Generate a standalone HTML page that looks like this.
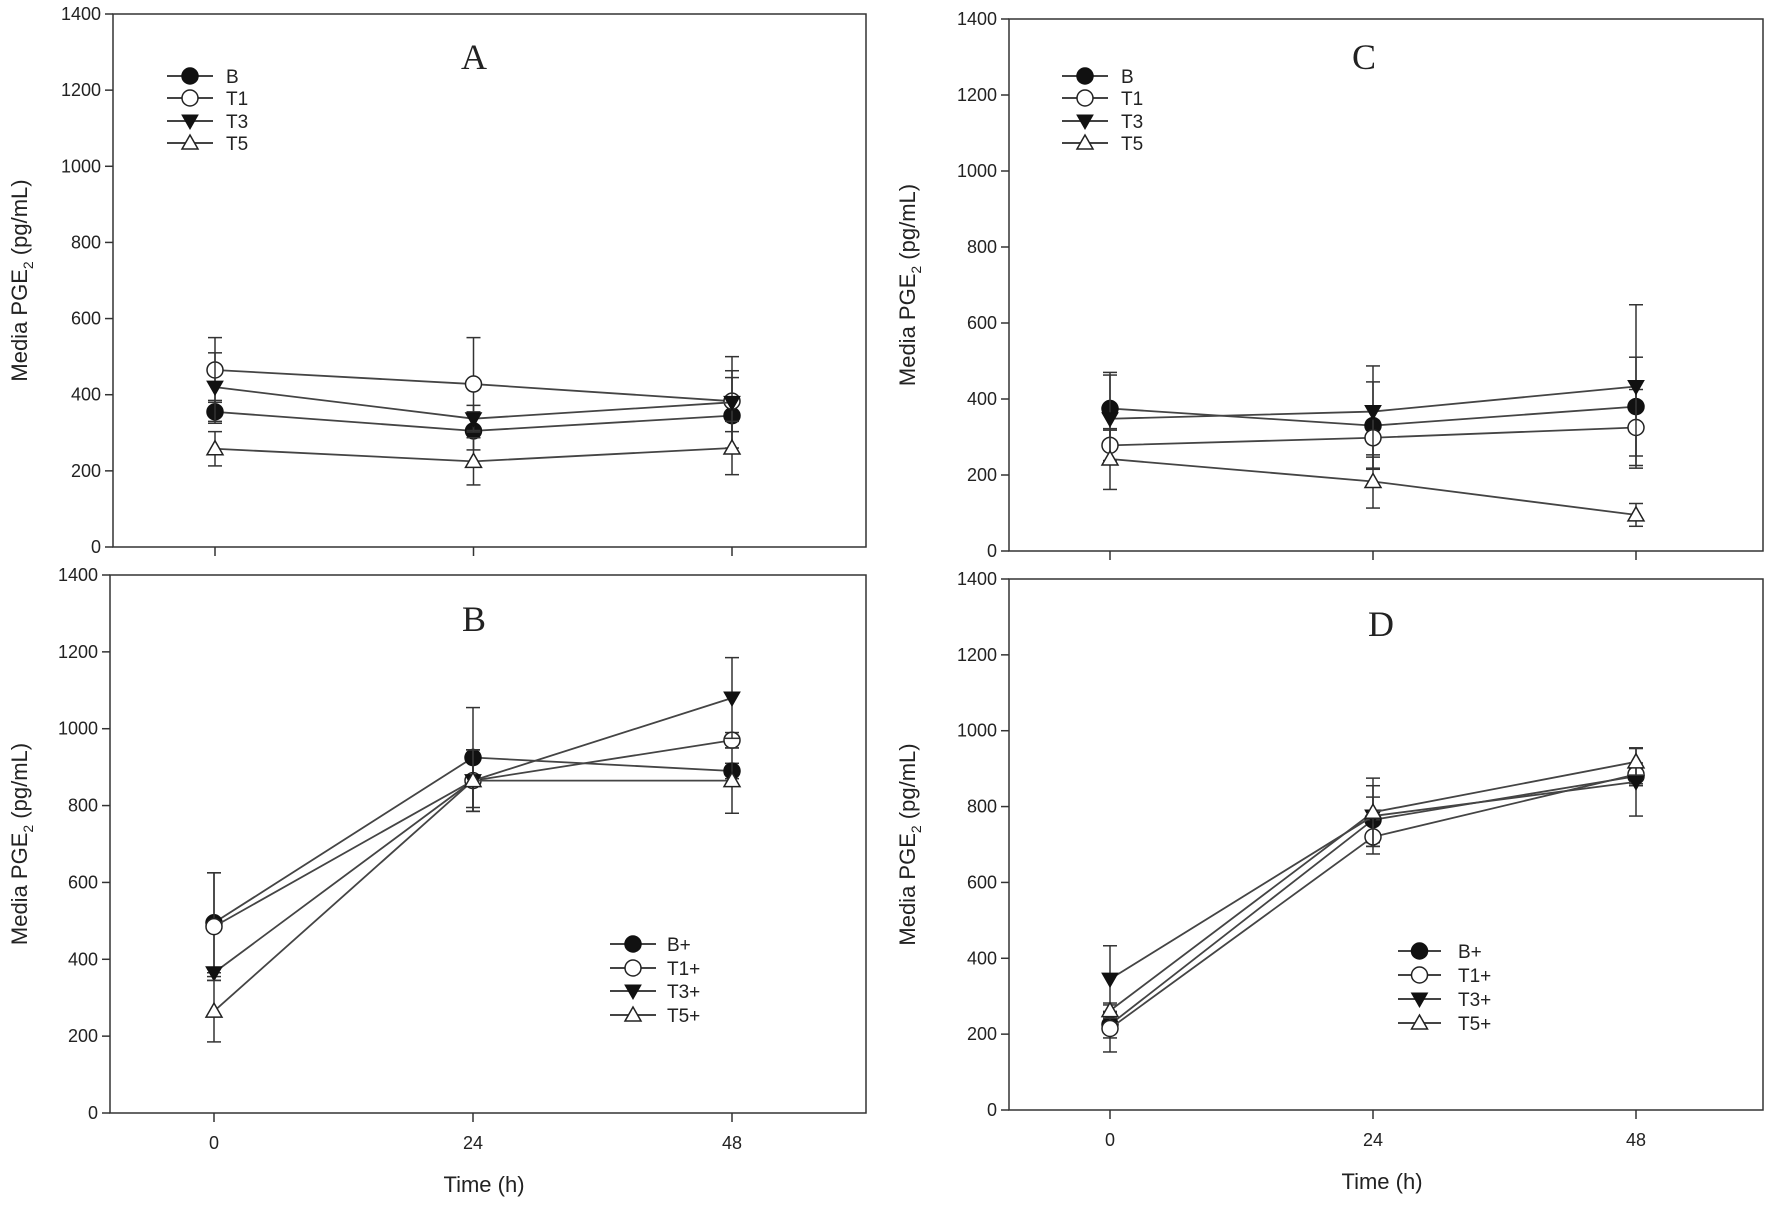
<!DOCTYPE html>
<html><head><meta charset="utf-8"><style>
html,body{margin:0;padding:0;background:#fff;}
svg{display:block;}
text{font-family:"Liberation Sans Narrow","Liberation Sans",sans-serif;fill:#222;}
</style></head><body>
<svg id="fig" width="1772" height="1207" viewBox="0 0 1772 1207" xmlns="http://www.w3.org/2000/svg"></svg>
<script>
const timeCats = [0, 24, 48];
const yTicks = [0, 200, 400, 600, 800, 1000, 1200, 1400];
const seriesNamesTop = ["B", "T1", "T3", "T5"];
const seriesNamesBot = ["B+", "T1+", "T3+", "T5+"];
const markerKinds = ["filled-circle", "open-circle", "filled-tri-down", "open-tri-up"];
// Panel A
const aB = [355, 305, 345], aBerr = [30, 50, 100];
const aT1 = [465, 428, 383], aT1err = [85, 122, 80];
const aT3 = [420, 337, 380], aT3err = [90, 35, 120];
const aT5 = [258, 225, 260], aT5err = [45, 62, 70];
// Panel B
const bB = [495, 925, 890], bBerr = [130, 130, 20];
const bT1 = [485, 865, 970], bT1err = [140, 80, 20];
const bT3 = [365, 865, 1080], bT3err = [10, 80, 105];
const bT5 = [265, 865, 865], bT5err = [80, 80, 85];
// Panel C
const cB = [375, 330, 380], cBerr = [95, 115, 130];
const cT1 = [278, 298, 325], cT1err = [40, 80, 100];
const cT3 = [348, 367, 433], cT3err = [115, 120, 215];
const cT5 = [242, 183, 95], cT5err = [80, 70, 30];
// Panel D
const dB = [225, 765, 880], dBerr = [35, 60, 20];
const dT1 = [215, 720, 885], dT1err = [62, 45, 30];
const dT3 = [345, 775, 865], dT3err = [88, 80, 90];
const dT5 = [262, 785, 918], dT5err = [20, 90, 35];

const NS = "http://www.w3.org/2000/svg";
const svg = document.getElementById("fig");
function mk(tag, attrs, parent){const e=document.createElementNS(NS,tag);for(const k in attrs)e.setAttribute(k,attrs[k]);(parent||svg).appendChild(e);return e;}

const panels = [
 {id:"a", letter:"A", L:113, R:866, T:14, B:547, tx:[215,474,732], series:[[aB,aBerr],[aT1,aT1err],[aT3,aT3err],[aT5,aT5err]], names:seriesNamesTop, leg:{x1:167,x2:213,tx:226,ys:[76,98,121,143]}, lx:474, ly:57, xlabels:false, titleX:19},
 {id:"b", letter:"B", L:110, R:866, T:575, B:1113, tx:[214,474,732], series:[[bB,bBerr],[bT1,bT1err],[bT3,bT3err],[bT5,bT5err]], names:seriesNamesBot, leg:{x1:610,x2:656,tx:667,ys:[944,968,991,1015]}, lx:474, ly:619, xlabels:true, titleX:19},
 {id:"c", letter:"C", L:1009, R:1763, T:19, B:551, tx:[1110,1373,1636], series:[[cB,cBerr],[cT1,cT1err],[cT3,cT3err],[cT5,cT5err]], names:seriesNamesTop, leg:{x1:1062,x2:1108,tx:1121,ys:[76,98,121,143]}, lx:1364, ly:57, xlabels:false, titleX:907},
 {id:"d", letter:"D", L:1009, R:1763, T:579, B:1110, tx:[1110,1373,1636], series:[[dB,dBerr],[dT1,dT1err],[dT3,dT3err],[dT5,dT5err]], names:seriesNamesBot, leg:{x1:1398,x2:1441,tx:1458,ys:[951,975,999,1023]}, lx:1381, ly:624, xlabels:true, titleX:907}
];

function marker(g, kind, x, y){
  const r=8;
  if(kind==="filled-circle") return mk("circle",{cx:x,cy:y,r:r,fill:"#111",stroke:"#111","stroke-width":1.5},g);
  if(kind==="open-circle") return mk("circle",{cx:x,cy:y,r:r,fill:"#fff",stroke:"#222","stroke-width":1.5},g);
  if(kind==="filled-tri-down") return mk("polygon",{points:`${x-8},${y-6} ${x+8},${y-6} ${x},${y+8}`,fill:"#111",stroke:"#111","stroke-width":1},g);
  return mk("polygon",{points:`${x-8},${y+6} ${x+8},${y+6} ${x},${y-8}`,fill:"#fff",stroke:"#222","stroke-width":1.5},g);
}

panels.forEach(p=>{
  const g = mk("g",{});
  
  
  const ys = v => p.B - (v/1400)*(p.B-p.T);
  const xs = i => p.tx[0] + (p.tx[2]-p.tx[0]) * (timeCats[i]/48);
  const frame = mk("rect",{x:p.L,y:p.T,width:p.R-p.L,height:p.B-p.T,fill:"none",stroke:"#333","stroke-width":1.5},g);
  
  
  yTicks.forEach(t=>{
    const y=ys(t);
    mk("line",{x1:p.L-8,x2:p.L,y1:y,y2:y,stroke:"#333","stroke-width":1.5},g);
    const tl=mk("text",{x:p.L-12,y:y+6,"text-anchor":"end","font-size":18},g);
    tl.textContent=t;
    
    
  });
  timeCats.forEach((c,i)=>{
    const x=xs(i);
    mk("line",{x1:x,x2:x,y1:p.B,y2:p.B+9,stroke:"#333","stroke-width":1.5},g);
    if(p.xlabels){
      const tl=mk("text",{x:x,y:p.B+36,"text-anchor":"middle","font-size":18},g);
      tl.textContent=c;
      
      
    }
  });
  if(p.xlabels){
    const xt=mk("text",{x:(p.L+p.R)/2-4,y:p.B+79,"text-anchor":"middle","font-size":22},g);
    xt.textContent="Time (h)";
    
    
  }
  const yt=mk("text",{transform:`translate(${p.titleX+8},${(p.T+p.B)/2}) rotate(-90)`,"text-anchor":"middle","font-size":22,style:"font-family:'Liberation Sans',sans-serif"},g);
  yt.innerHTML='Media PGE<tspan font-size="14" dy="6">2</tspan><tspan dy="-6"> (pg/mL)</tspan>';
  
  
  const lt=mk("text",{x:p.lx,y:p.ly+12,"text-anchor":"middle","font-size":36,style:"font-family:'Liberation Serif',serif"},g);
  lt.textContent=p.letter;
  
  
  p.series.forEach((s,si)=>{
    const sg=mk("g",{},g);
    
    
    const vals=s[0], err=s[1];
    vals.forEach((v,i)=>{
      const x=xs(i);
      mk("line",{x1:x,x2:x,y1:ys(v-err[i]),y2:ys(v+err[i]),stroke:"#333","stroke-width":1.5},sg);
      mk("line",{x1:x-7,x2:x+7,y1:ys(v-err[i]),y2:ys(v-err[i]),stroke:"#333","stroke-width":1.5},sg);
      mk("line",{x1:x-7,x2:x+7,y1:ys(v+err[i]),y2:ys(v+err[i]),stroke:"#333","stroke-width":1.5},sg);
    });
    mk("polyline",{points:vals.map((v,i)=>xs(i)+","+ys(v)).join(" "),fill:"none",stroke:"#444","stroke-width":1.8},sg);
    vals.forEach((v,i)=>{
      const m=marker(sg,markerKinds[si],xs(i),ys(v));
      
      
    });
  });
  const lg=mk("g",{},g);
  
  
  p.names.forEach((n,i)=>{
    const y=p.leg.ys[i];
    const eg=mk("g",{},lg);
    
    
    mk("line",{x1:p.leg.x1,x2:p.leg.x2,y1:y,y2:y,stroke:"#444","stroke-width":2},eg);
    marker(eg,markerKinds[i],(p.leg.x1+p.leg.x2)/2,y);
    const t=mk("text",{x:p.leg.tx,y:y+7,"font-size":19},eg);
    t.textContent=n;
  });
});
</script>
</body></html>
